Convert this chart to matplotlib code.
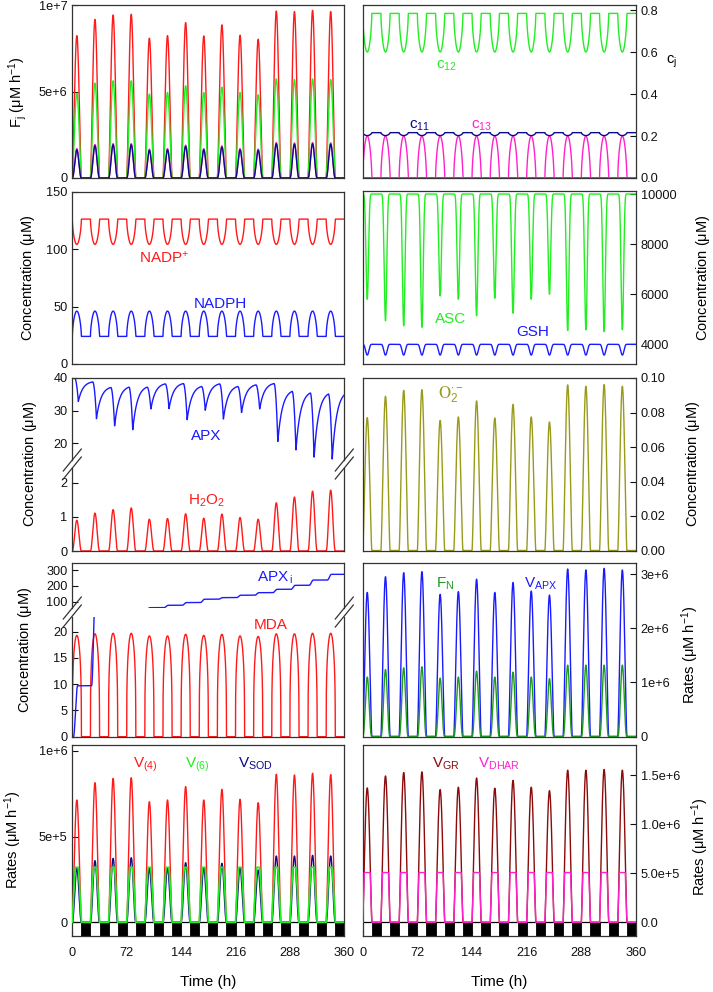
import numpy as np
import matplotlib
matplotlib.use("Agg")
import matplotlib.pyplot as plt
from matplotlib.patches import Rectangle
from matplotlib.lines import Line2D

plt.rcParams['font.family'] = ['Liberation Sans', 'DejaVu Sans']
plt.rcParams['mathtext.fontset'] = 'custom'
plt.rcParams['mathtext.rm'] = 'Liberation Sans'
plt.rcParams['mathtext.it'] = 'Liberation Sans'
plt.rcParams['mathtext.default'] = 'regular'

# ---------------- data ----------------
days = np.arange(15)                       # 15 daily cycles, 24 h each
period_h = 24
light_h = 12
xticks = [0, 72, 144, 216, 288, 360]

# Row 1 left: fluxes F_j (uM/h), daily peak values
F_red_peak = [8.23e6, 9.17e6, 9.42e6, 9.46e6, 8.08e6, 8.23e6, 8.98e6, 8.21e6,
              8.85e6, 8.25e6, 8.02e6, 9.65e6, 9.62e6, 9.69e6, 9.62e6]
F_green_peak = [4.90e6, 5.48e6, 5.62e6, 5.62e6, 4.85e6, 4.94e6, 5.33e6, 4.94e6,
                5.25e6, 4.94e6, 4.81e6, 5.73e6, 5.69e6, 5.73e6, 5.69e6]
F_blue_peak = [1.63e6, 1.87e6, 1.92e6, 1.92e6, 1.60e6, 1.63e6, 1.83e6, 1.63e6,
               1.79e6, 1.63e6, 1.60e6, 1.98e6, 1.96e6, 1.98e6, 1.96e6]
F_mag_peak = [1.70e6, 1.94e6, 1.99e6, 1.99e6, 1.67e6, 1.70e6, 1.90e6, 1.70e6,
              1.86e6, 1.70e6, 1.67e6, 2.05e6, 2.03e6, 2.05e6, 2.03e6]

# Row 1 right: fractions c_j (dark plateau, light extreme)
c12_dark, c12_light, c12_start = 0.784, 0.600, 0.53
c11_dark, c11_light = 0.216, 0.202
c13_dark, c13_light = 0.0, 0.200

# Row 2 left: NADP+ and NADPH (uM)
nadp_dark, nadp_light, nadp_start = 126.0, 104.0, 22.0
nadph_dark, nadph_light, nadph_start = 24.0, 46.0, 36.0

# Row 2 right: ASC and GSH (uM)
asc_top = 10000.0
asc_min = [5800, 4940, 4740, 4680, 5930, 5800, 5140, 5840, 5240, 5800,
           6000, 4550, 4580, 4510, 4580]
gsh_top, gsh_min = 4000.0, 3570.0

# Row 3 left: APX (uM) before daily drop and at daily trough; H2O2 peaks
apx_before = [40.0, 38.8, 37.1, 37.2, 37.2, 38.2, 38.3, 37.4, 38.2, 37.4,
              37.9, 38.3, 35.9, 35.4, 35.1, 35.4]
apx_trough = [32.8, 27.5, 25.3, 24.1, 30.5, 30.6, 27.2, 30.1, 27.4, 29.4,
              30.5, 20.5, 17.9, 15.7, 15.1]
h2o2_peak = [0.90, 1.11, 1.21, 1.26, 0.93, 0.95, 1.09, 0.96, 1.08, 0.98,
             0.93, 1.41, 1.58, 1.75, 1.78]

# Row 3 right: superoxide peaks (uM)
o2_peak = [0.0770, 0.0894, 0.0928, 0.0932, 0.0754, 0.0774, 0.0867, 0.0768,
           0.0847, 0.0774, 0.0745, 0.0960, 0.0952, 0.0962, 0.0952]

# Row 4 left: MDA peaks and APXi level reached at the end of each day (uM)
mda_peak = [19.3, 19.6, 19.7, 19.7, 19.2, 19.2, 19.5, 19.3, 19.5, 19.2,
            19.1, 19.6, 19.6, 19.7, 19.7]
apxi_level = [9.7, 30, 42, 53, 64, 79, 96, 117, 127, 142, 158, 179, 204, 237, 273]

# Row 4 right: rates (uM/h)
vapx_peak = [2.665e6, 2.956e6, 3.03e6, 3.05e6, 2.63e6, 2.68e6, 2.91e6, 2.665e6,
             2.85e6, 2.69e6, 2.616e6, 3.098e6, 3.08e6, 3.11e6, 3.08e6]
fn_peak = [1.10e6, 1.24e6, 1.27e6, 1.29e6, 1.08e6, 1.10e6, 1.21e6, 1.10e6,
           1.19e6, 1.10e6, 1.07e6, 1.32e6, 1.32e6, 1.32e6, 1.32e6]

# Row 5 left: rates (uM/h)
v4_peak = [0.714e6, 0.815e6, 0.840e6, 0.844e6, 0.704e6, 0.714e6, 0.792e6, 0.714e6,
           0.776e6, 0.718e6, 0.698e6, 0.864e6, 0.860e6, 0.870e6, 0.862e6]
v6_cap = 0.321e6
vsod_peak = [0.315e6, 0.360e6, 0.373e6, 0.377e6, 0.315e6, 0.318e6, 0.348e6, 0.318e6,
             0.344e6, 0.318e6, 0.305e6, 0.387e6, 0.387e6, 0.391e6, 0.387e6]

# Row 5 right: rates (uM/h)
vgr_peak = [1.371e6, 1.493e6, 1.528e6, 1.535e6, 1.354e6, 1.378e6, 1.472e6, 1.368e6,
            1.448e6, 1.378e6, 1.343e6, 1.552e6, 1.552e6, 1.559e6, 1.552e6]
vdhar_cap = 0.508e6

# ---------------- time base & daily light profile ----------------
t = np.linspace(0, 360, 7201)
day = np.minimum((t // period_h).astype(int), 14)
ph = t - period_h * day
I = np.where(ph < light_h, np.sin(np.pi * np.clip(ph, 0, light_h) / light_h), 0.0)


def pulses(peaks, p):
    return np.asarray(peaks, float)[day] * I ** p


F_red = pulses(F_red_peak, 1.5)
F_green = pulses(F_green_peak, 1.5)
F_blue = pulses(F_blue_peak, 2.2)
F_mag = pulses(F_mag_peak, 2.2)

c12 = c12_dark + (c12_light - c12_dark) * I ** 0.6
c13 = c13_dark + (c13_light - c13_dark) * I ** 0.6
c11 = c11_dark + (c11_light - c11_dark) * I ** 0.6
nadp = nadp_dark + (nadp_light - nadp_dark) * I ** 0.6
nadph = nadph_dark + (nadph_light - nadph_dark) * I ** 0.6
asc = asc_top - (asc_top - np.asarray(asc_min, float)[day]) * I ** 5
gsh = gsh_top - (gsh_top - gsh_min) * I ** 3

# APX: drop during early light, exponential-like recovery afterwards
apx = np.empty_like(t)
rec_norm = 1 - np.exp(-19 / 6.0)
for i, (d, p) in enumerate(zip(day, ph)):
    if p < 3:
        if d == 0:
            apx[i] = apx_before[0]
        else:
            dt = p + 24 - 8
            f = (1 - np.exp(-dt / 6.0)) / rec_norm
            apx[i] = apx_trough[d - 1] + (apx_before[d] - apx_trough[d - 1]) * f
    elif p < 8:
        s = ((p - 3) / 5.0) ** 2
        apx[i] = apx_before[d] + (apx_trough[d] - apx_before[d]) * s
    else:
        dt = p - 8
        f = (1 - np.exp(-dt / 6.0)) / rec_norm
        apx[i] = apx_trough[d] + (apx_before[d + 1] - apx_trough[d]) * f

h2o2 = pulses(h2o2_peak, 2.0)
o2 = pulses(o2_peak, 1.5)
mda = pulses(mda_peak, 0.3)

prev_level = np.array([0.0] + apxi_level[:-1])
lev = np.asarray(apxi_level, float)
ss = np.clip((ph - 1.5) / 5.5, 0, 1)
ss = (1 - np.cos(np.pi * ss)) / 2
apxi = prev_level[day] + (lev[day] - prev_level[day]) * ss

vapx = pulses(vapx_peak, 1.5)
fn = pulses(fn_peak, 2.5)
v4 = pulses(v4_peak, 1.5)
v6 = np.minimum(0.36e6 * I, v6_cap)
vsod = pulses(vsod_peak, 2.0)
vgr = pulses(vgr_peak, 1.3)
vdhar = np.minimum(0.95e6 * I, vdhar_cap)

# ---------------- figure ----------------
W, H = 713, 992
fig = plt.figure(figsize=(W / 100, H / 100), dpi=100)

RED = '#ff1a1a'
GREEN = '#22ee22'
BLUE = '#1a1aff'
NAVY = '#0a0a8a'
MAG = '#ff22cc'
OLIVE = '#999a1a'
DKGREEN = '#1e9a1e'
DKRED = '#8b0a0a'
SPINE = '#333333'
LW = 1.0
TS = 9.2   # tick label size
LS = 10.5  # axis label size
AS = 11    # annotation size


def ax_rect(x0, y0, x1, y1, side='left'):
    ax = fig.add_axes([x0 / W, 1 - y1 / H, (x1 - x0) / W, (y1 - y0) / H])
    ax.set_xlim(0, 360)
    for s in ax.spines.values():
        s.set_color(SPINE)
        s.set_linewidth(0.9)
    ax.tick_params(direction='in', length=4, width=0.8, labelsize=TS, colors='#111111')
    ax.set_xticks([])
    if side == 'right':
        ax.yaxis.tick_right()
    return ax


def yt(ax, vals, labels):
    ax.set_yticks(vals)
    ax.set_yticklabels(labels)


LX0, LX1 = 72.3, 344.3
RX0, RX1 = 362.7, 636.0

# Row 1
A1 = ax_rect(LX0, 5, LX1, 178)
A1.set_ylim(0, 1e7)
A1.plot(t, F_red, color=RED, lw=LW)
A1.plot(t, F_green, color=GREEN, lw=LW)
A1.plot(t, F_mag, color=MAG, lw=LW)
A1.plot(t, F_blue, color=NAVY, lw=LW)
yt(A1, [0, 5e6, 1e7], ['0', '5e+6', '1e+7'])

B1 = ax_rect(RX0, 5, RX1, 178, 'right')
B1.set_ylim(0, 0.824)
B1.plot(np.r_[0, t], np.r_[c12_start, c12], color=GREEN, lw=LW)
B1.plot(t, np.zeros_like(t), color=BLUE, lw=LW)
B1.plot(t, c13, color=MAG, lw=LW)
B1.plot(t, c11, color=NAVY, lw=LW)
yt(B1, [0, 0.2, 0.4, 0.6, 0.8], ['0.0', '0.2', '0.4', '0.6', '0.8'])
B1.text(110, 0.52, r'c$_{12}$', color=GREEN, fontsize=AS, ha='center')
B1.text(75, 0.235, r'c$_{11}$', color=NAVY, fontsize=AS, ha='center')
B1.text(157, 0.235, r'c$_{13}$', color=MAG, fontsize=AS, ha='center')

# Row 2
A2 = ax_rect(LX0, 191.5, LX1, 364)
A2.set_ylim(0, 150)
A2.plot(np.r_[0, t], np.r_[nadp_start, nadp], color=RED, lw=LW)
A2.plot(np.r_[0, t], np.r_[nadph_start, nadph], color=BLUE, lw=LW)
yt(A2, [0, 50, 100, 150], ['0', '50', '100', '150'])
A2.text(122, 88, r'NADP$^{+}$', color=RED, fontsize=AS, ha='center')
A2.text(196, 49, 'NADPH', color=BLUE, fontsize=AS, ha='center')

B2 = ax_rect(RX0, 190.7, RX1, 364, 'right')
B2.set_ylim(3214, 10132)
B2.plot(t, asc, color=GREEN, lw=LW)
B2.plot(t, gsh, color=BLUE, lw=LW)
yt(B2, [4000, 6000, 8000, 10000], ['4000', '6000', '8000', '10000'])
B2.text(116, 4850, 'ASC', color=GREEN, fontsize=AS, ha='center')
B2.text(224, 4330, 'GSH', color=BLUE, fontsize=AS, ha='center')

# Row 3 left (broken axis)
A3u = ax_rect(LX0, 378, LX1, 460)
A3u.set_ylim(14.8, 40)
A3u.plot(t, apx, color=BLUE, lw=LW)
A3u.spines['bottom'].set_visible(False)
yt(A3u, [20, 30, 40], ['20', '30', '40'])
A3u.text(177, 21.0, 'APX', color=BLUE, fontsize=AS, ha='center')

A3l = ax_rect(LX0, 468, LX1, 551)
A3l.set_ylim(0, 2.43)
A3l.plot(t, h2o2, color=RED, lw=LW)
A3l.spines['top'].set_visible(False)
yt(A3l, [0, 1, 2], ['0', '1', '2'])
A3l.text(178, 1.36, r'H$_2$O$_2$', color=RED, fontsize=AS, ha='center')

B3 = ax_rect(RX0, 378, RX1, 550.5, 'right')
B3.set_ylim(0, 0.1)
B3.plot(t, o2, color=OLIVE, lw=LW)
yt(B3, [0, 0.02, 0.04, 0.06, 0.08, 0.10], ['0.00', '0.02', '0.04', '0.06', '0.08', '0.10'])
B3.text(116, 0.088, r'$\mathrm{O}_2^{\bullet -}$', color=OLIVE, fontsize=AS + 1,
        ha='center', math_fontfamily='stix')

# Row 4 left (broken axis)
A4u = ax_rect(LX0, 563, LX1, 608)
A4u.set_ylim(62, 344)
A4u.plot(t, apxi, color=BLUE, lw=LW)
A4u.spines['bottom'].set_visible(False)
yt(A4u, [100, 200, 300], ['100', '200', '300'])
A4u.text(268, 225, r'APX$_{\,i}$', color=BLUE, fontsize=AS, ha='center')

A4l = ax_rect(LX0, 617, LX1, 736.7)
A4l.set_ylim(0, 22.8)
A4l.plot(t, mda, color=RED, lw=LW)
A4l.plot(t, apxi, color=BLUE, lw=LW)
A4l.spines['top'].set_visible(False)
yt(A4l, [0, 5, 10, 15, 20], ['0', '5', '10', '15', '20'])
A4l.text(263, 20.6, 'MDA', color=RED, fontsize=AS, ha='center')

B4 = ax_rect(RX0, 563, RX1, 736.5, 'right')
B4.set_ylim(0, 3.21e6)
B4.plot(t, vapx, color=BLUE, lw=LW)
B4.plot(t, fn, color=DKGREEN, lw=LW)
yt(B4, [0, 1e6, 2e6, 3e6], ['0', '1e+6', '2e+6', '3e+6'])
B4.text(108, 2.75e6, r'F$_N$', color=DKGREEN, fontsize=AS, ha='center')
B4.text(235, 2.75e6, r'V$_{APX}$', color=BLUE, fontsize=AS, ha='center')

# Row 5
def light_dark(ax, ylo):
    for k in days:
        ax.add_patch(Rectangle((period_h * k + light_h, ylo), period_h - light_h, -ylo,
                               facecolor='black', edgecolor='black', lw=0.6, zorder=1))
    ax.axhline(0, color='black', lw=0.9, zorder=1)


A5 = ax_rect(LX0, 745, LX1, 935.7)
A5.set_ylim(-0.078e6, 1.035e6)
light_dark(A5, -0.078e6)
A5.plot(t, v4, color=RED, lw=LW, zorder=3)
A5.plot(t, vsod, color=NAVY, lw=LW, zorder=3)
A5.plot(t, v6, color=GREEN, lw=LW * 1.3, zorder=3)
yt(A5, [0, 5e5, 1e6], ['0', '5e+5', '1e+6'])
A5.set_xticks(xticks)
A5.tick_params(axis='x', labelsize=TS, pad=8)
A5.set_xlabel('Time (h)', fontsize=AS, labelpad=12)
A5.text(97, 0.905e6, r'V$_{(4)}$', color=RED, fontsize=AS, ha='center')
A5.text(165, 0.905e6, r'V$_{(6)}$', color=GREEN, fontsize=AS, ha='center')
A5.text(243, 0.905e6, r'V$_{SOD}$', color=NAVY, fontsize=AS, ha='center')

B5 = ax_rect(RX0, 745, RX1, 935.7, 'right')
B5.set_ylim(-0.137e6, 1.809e6)
light_dark(B5, -0.137e6)
B5.plot(t, vgr, color=DKRED, lw=LW, zorder=3)
B5.plot(t, vdhar, color=MAG, lw=LW, zorder=3)
yt(B5, [0, 5e5, 1e6, 1.5e6], ['0.0', '5.0e+5', '1.0e+6', '1.5e+6'])
B5.set_xticks(xticks)
B5.tick_params(axis='x', labelsize=TS, pad=8)
B5.set_xlabel('Time (h)', fontsize=AS, labelpad=12)
B5.text(109, 1.58e6, r'V$_{GR}$', color=DKRED, fontsize=AS, ha='center')
B5.text(180, 1.58e6, r'V$_{DHAR}$', color=MAG, fontsize=AS, ha='center')

# y labels (figure text)
def ftext(x, y, s, **kw):
    fig.text(x / W, 1 - y / H, s, ha='center', va='center', fontsize=LS, **kw)

ftext(18, 92, r'F$_j$ ($\mu$M h$^{-1}$)', rotation=90)
ftext(28, 278, r'Concentration ($\mu$M)', rotation=90)
ftext(30, 464, r'Concentration ($\mu$M)', rotation=90)
ftext(25, 650, r'Concentration ($\mu$M)', rotation=90)
ftext(13, 840, r'Rates ($\mu$M h$^{-1}$)', rotation=90)
ftext(672, 62, r'c$_j$', rotation=0)
ftext(703, 278, r'Concentration ($\mu$M)', rotation=90)
ftext(693, 464, r'Concentration ($\mu$M)', rotation=90)
ftext(690, 655, r'Rates ($\mu$M h$^{-1}$)', rotation=90)
ftext(700, 847, r'Rates ($\mu$M h$^{-1}$)', rotation=90)

# axis-break marks
def brk(x, ymid):
    for dy in (-4, 4):
        fig.add_artist(Line2D([(x - 9) / W, (x + 9) / W],
                              [1 - (ymid + dy + 11) / H, 1 - (ymid + dy - 11) / H],
                              color=SPINE, lw=0.9))

brk(LX0, 464)
brk(LX1, 464)
brk(LX0, 612)
brk(LX1, 612)

fig.savefig('out.png', dpi=100)
